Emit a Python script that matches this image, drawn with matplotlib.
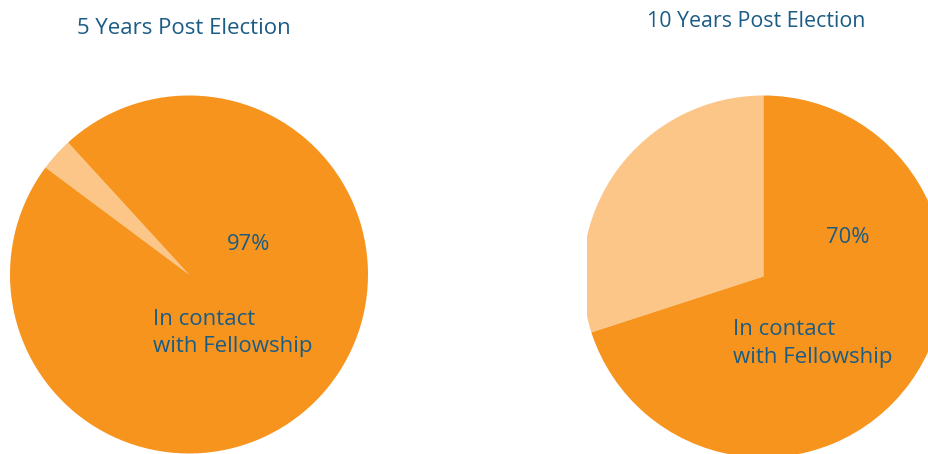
import matplotlib
matplotlib.use("Agg")
import matplotlib.pyplot as plt

# Share of elected alumni still in contact with the Fellowship
panel_titles = ["5 Years Post Election", "10 Years Post Election"]
in_contact = [97, 70]
not_in_contact = [3, 30]
slice_label = "In contact\nwith Fellowship"

ORANGE = "#F7941E"
LIGHT = "#FCC688"
BLUE = "#1B5C85"

W, H = 929, 454
plt.rcParams["font.family"] = ["Open Sans", "DejaVu Sans"]

fig = plt.figure(figsize=(W / 100, H / 100), dpi=100)

# left panel uses the whole canvas in pixel units (y up)
ax1 = fig.add_axes([0, 0, 1, 1])
# right panel is cut on its left side, so it gets its own axes
x0 = 587
ax2 = fig.add_axes([x0 / W, 0, (W - x0) / W, 1])

ax1.pie([not_in_contact[0], in_contact[0]], colors=[LIGHT, ORANGE],
        startangle=132.5, counterclock=True, center=(189, H - 274.5),
        radius=179, frame=True, wedgeprops={"clip_on": True})
ax2.pie([not_in_contact[1], in_contact[1]], colors=[LIGHT, ORANGE],
        startangle=90, counterclock=True, center=(763.5, H - 276.5),
        radius=181, frame=True, wedgeprops={"clip_on": True})
for ax, lim in ((ax1, (0, W)), (ax2, (x0, W))):
    ax.set_xlim(*lim)
    ax.set_ylim(0, H)
    ax.set_aspect("auto")
    ax.axis("off")

ax1.text(184, H - 28, panel_titles[0], color=BLUE, fontsize=16,
         ha="center", va="center")
fig.text(756 / W, 1 - 21.5 / H, panel_titles[1], color=BLUE, fontsize=15.4,
         ha="center", va="center")

ax1.text(248.5, H - 244.5, f"{in_contact[0]}%", color=BLUE, fontsize=15.8,
         ha="center", va="center")
ax1.text(153, H - 352, slice_label, color=BLUE, fontsize=16,
         ha="left", va="baseline", linespacing=1.35)

ax2.text(847.5, H - 237.5, f"{in_contact[1]}%", color=BLUE, fontsize=15.8,
         ha="center", va="center")
ax2.text(733, H - 363, slice_label, color=BLUE, fontsize=16,
         ha="left", va="baseline", linespacing=1.45)

fig.savefig("out.png", dpi=100)
